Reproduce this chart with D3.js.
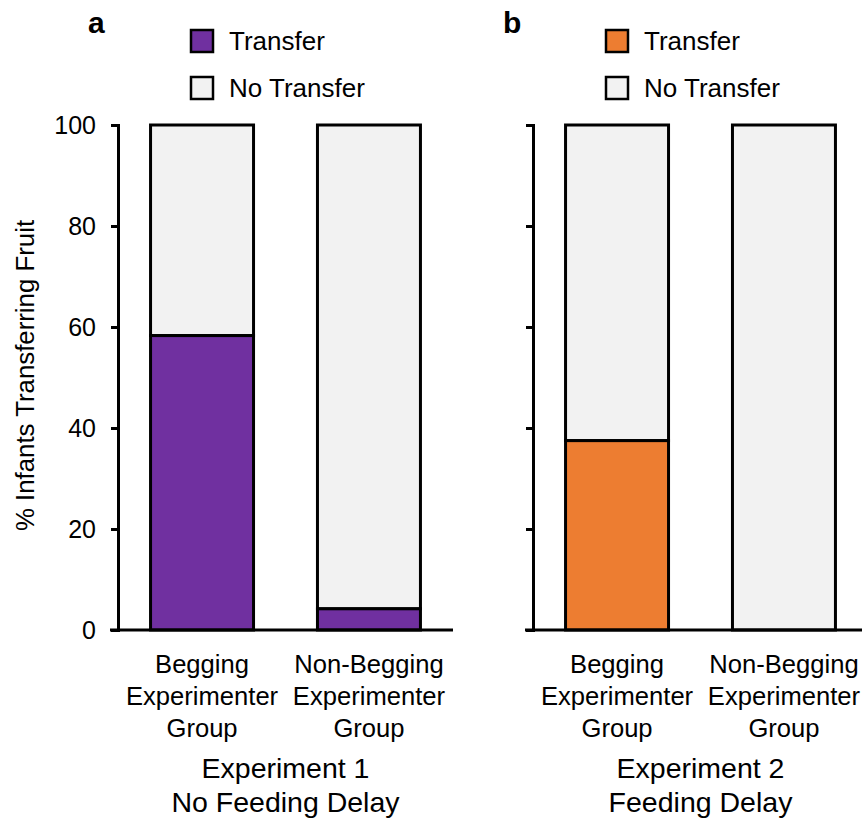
<!DOCTYPE html>
<html lang="en">
  <head>
    <meta charset="UTF-8" />
    <title>Infants transferring fruit</title>
    <script src="https://d3js.org/d3.v7.min.js"></script>
    <style>
      body { margin: 0; background: #fff; }
      text { font-family: "Liberation Sans", Arial, sans-serif; fill: #000; }
    </style>
  </head>
  <body>
    <svg width="862" height="820"></svg>
    <script>
      // data
      const categories = ["Begging Experimenter Group", "Non-Begging Experimenter Group"];
      const categoryLines = [["Begging", "Experimenter", "Group"], ["Non-Begging", "Experimenter", "Group"]];
      const exp1Transfer = [58.3, 4.2];
      const exp2Transfer = [37.5, 0];
      const yTicks = [0, 20, 40, 60, 80, 100];
      const legendLabels = ["Transfer", "No Transfer"];
      const panels = [
        { tag: "a", title: ["Experiment 1", "No Feeding Delay"], values: exp1Transfer, color: "#7030a0", showTicks: true },
        { tag: "b", title: ["Experiment 2", "Feeding Delay"], values: exp2Transfer, color: "#ed7d31", showTicks: false }
      ];

      const svg = d3.select("svg");
      const plotTop = 125, plotBottom = 630;
      const panelX = [118, 533];
      const plotW = 335;

      const y = d3.scaleLinear().domain([0, 100]).range([plotBottom, plotTop]);
      const x = d3.scaleBand().domain(categories).range([0, plotW])
        .paddingInner(0.383).paddingOuter(0.195);

      const noColor = "#f2f2f2";

      // y label
      svg.append("text")
        .attr("transform", `translate(34,${(plotTop + plotBottom) / 2 - 2}) rotate(-90)`)
        .attr("text-anchor", "middle")
        .style("font-size", "25.8px")
        .text("% Infants Transferring Fruit");

      panels.forEach((p, pi) => {
        const g = svg.append("g").attr("transform", `translate(${panelX[pi]},0)`);

        // bars: no transfer on top, transfer below
        const bars = g.selectAll(".bar").data(categories).enter().append("g");
        bars.append("rect")
          .attr("x", d => x(d))
          .attr("width", x.bandwidth())
          .attr("y", y(100))
          .attr("height", (d, i) => y(p.values[i]) - y(100))
          .attr("fill", noColor)
          .attr("stroke", "#000").attr("stroke-width", 3);
        bars.append("rect")
          .attr("x", d => x(d))
          .attr("width", x.bandwidth())
          .attr("y", (d, i) => y(p.values[i]))
          .attr("height", (d, i) => y(0) - y(p.values[i]))
          .attr("fill", p.color)
          .attr("stroke", "#000").attr("stroke-width", 3);

        // y axis
        const yAxis = d3.axisLeft(y).tickValues(yTicks).tickSize(7).tickPadding(15);
        if (!p.showTicks) yAxis.tickFormat("");
        const ya = g.append("g").call(yAxis);
        ya.select(".domain").attr("stroke-width", 3);
        ya.selectAll(".tick line").attr("stroke-width", 3);
        ya.selectAll("text").style("font-size", "25px");
        ya.attr("font-family", null);

        // x axis line
        g.append("line")
          .attr("x1", -8).attr("x2", plotW)
          .attr("y1", y(0)).attr("y2", y(0))
          .attr("stroke", "#000").attr("stroke-width", 3);

        // category labels
        categories.forEach((c, ci) => {
          const t = g.append("text")
            .attr("text-anchor", "middle")
            .style("font-size", "25.6px");
          categoryLines[ci].forEach((line, li) => {
            t.append("tspan")
              .attr("x", x(c) + x.bandwidth() / 2)
              .attr("y", plotBottom + 43 + li * 32)
              .text(line);
          });
        });

        // panel title
        const cx = (x(categories[0]) + x(categories[1]) + x.bandwidth()) / 2;
        p.title.forEach((line, li) => {
          g.append("text")
            .attr("x", cx)
            .attr("y", 778 + li * 34)
            .attr("text-anchor", "middle")
            .style("font-size", "28.5px")
            .text(line);
        });

        // panel tag
        g.append("text")
          .attr("x", -30).attr("y", 33)
          .style("font-size", "30px").style("font-weight", "bold")
          .text(p.tag);

        // legend
        const legendColors = [p.color, noColor];
        legendLabels.forEach((lab, li) => {
          const ly = 30 + li * 47;
          g.append("rect")
            .attr("x", 73).attr("y", ly)
            .attr("width", 22).attr("height", 22)
            .attr("fill", legendColors[li])
            .attr("stroke", "#000").attr("stroke-width", 2.5);
          g.append("text")
            .attr("x", 111).attr("y", ly + 20)
            .style("font-size", "26px")
            .text(lab);
        });
      });
    </script>
  </body>
</html>
